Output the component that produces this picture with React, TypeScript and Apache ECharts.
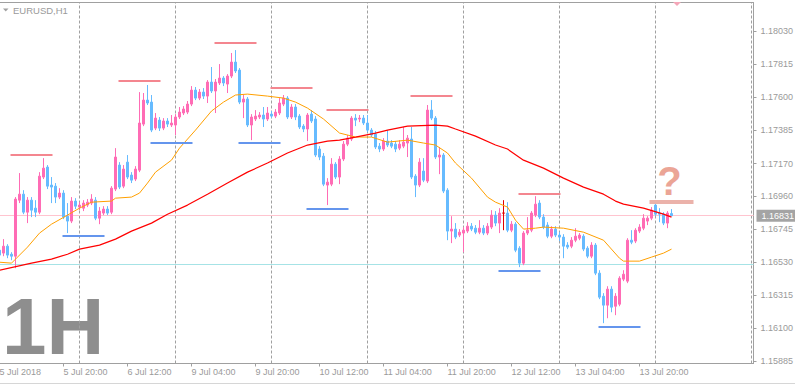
import React, { useEffect, useRef } from 'react';
import * as echarts from 'echarts';

// ---------- axis data ----------
const N_CATS = 189; // 169 bars + empty shift area on the right
const MONTHS = ['Jan', 'Feb', 'Mar', 'Apr', 'May', 'Jun', 'Jul', 'Aug', 'Sep', 'Oct', 'Nov', 'Dec'];
const START_UTC = Date.UTC(2018, 6, 5, 4); // 5 Jul 2018 04:00, first bar

const X_TICK_LABELS = [
  '5 Jul 2018', '5 Jul 20:00', '6 Jul 12:00', '9 Jul 04:00', '9 Jul 20:00', '10 Jul 12:00',
  '11 Jul 04:00', '11 Jul 20:00', '12 Jul 12:00', '13 Jul 04:00', '13 Jul 20:00',
];
const Y_TICKS = [1.15885, 1.161, 1.16315, 1.1653, 1.16745, 1.1696, 1.1717, 1.17385, 1.176, 1.17815, 1.1803];
const Y_MIN = 1.15871;
const Y_MAX = 1.18216;

// ---------- candles (EURUSD H1) ----------
const OPEN = [
  1.16607, 1.16588, 1.16633, 1.16581, 1.16568, 1.16932, 1.16971, 1.16854, 1.16932, 1.1688,
  1.16854, 1.17082, 1.17147, 1.1703, 1.17023, 1.16952, 1.16978, 1.16828, 1.16796, 1.16926,
  1.16887, 1.1688, 1.169, 1.16913, 1.16932, 1.16815, 1.16848, 1.16874, 1.16854, 1.17004,
  1.1716, 1.17023, 1.17179, 1.17095, 1.17069, 1.17127, 1.17426, 1.17582, 1.17569, 1.174,
  1.17452, 1.174, 1.17446, 1.1742, 1.1742, 1.17472, 1.17498, 1.17504, 1.17556, 1.17647,
  1.17595, 1.17634, 1.17608, 1.17699, 1.17641, 1.17693, 1.17725, 1.17686, 1.17738, 1.17829,
  1.17777, 1.17569, 1.17589, 1.1742, 1.17459, 1.17472, 1.17485, 1.17459, 1.17491, 1.17478,
  1.17498, 1.17556, 1.17595, 1.17472, 1.17537, 1.17478, 1.17413, 1.17394, 1.17491, 1.17459,
  1.17264, 1.17218, 1.1703, 1.17036, 1.17166, 1.17082, 1.17199, 1.17296, 1.17329, 1.17465,
  1.17459, 1.17465, 1.17433, 1.17387, 1.17361, 1.17283, 1.17264, 1.17316, 1.17303, 1.17296,
  1.1727, 1.17283, 1.17303, 1.17329, 1.17088, 1.1703, 1.17121, 1.17056, 1.17517, 1.17465,
  1.17212, 1.17225, 1.16997, 1.16731, 1.16744, 1.16705, 1.16718, 1.16731, 1.16763, 1.1675,
  1.16724, 1.1675, 1.16718, 1.16757, 1.16835, 1.16783, 1.16848, 1.16848, 1.16737, 1.16776,
  1.1662, 1.16523, 1.16718, 1.16737, 1.16835, 1.16913, 1.16822, 1.1677, 1.16698, 1.16744,
  1.16705, 1.16692, 1.1664, 1.16633, 1.16672, 1.16685, 1.16698, 1.1662, 1.16568, 1.1664,
  1.16458, 1.16308, 1.1625, 1.16354, 1.16243, 1.16256, 1.16419, 1.16406, 1.16672, 1.16666,
  1.16731, 1.1675, 1.16796, 1.16815, 1.169, 1.16848, 1.16841, 1.16783, 1.16845,
];
const CLOSE = [
  1.16575, 1.16633, 1.16575, 1.16568, 1.16939, 1.16971, 1.16854, 1.16932, 1.16867, 1.16854,
  1.17088, 1.1714, 1.17023, 1.17017, 1.16952, 1.16978, 1.16822, 1.16796, 1.16926, 1.16893,
  1.169, 1.16913, 1.16919, 1.16939, 1.16815, 1.16861, 1.16874, 1.16848, 1.1701, 1.17212,
  1.17017, 1.17134, 1.17082, 1.17062, 1.17134, 1.17433, 1.17582, 1.17563, 1.17387, 1.17465,
  1.174, 1.17446, 1.17426, 1.17433, 1.17472, 1.17504, 1.17524, 1.17556, 1.17647, 1.17595,
  1.17634, 1.17608, 1.17699, 1.17641, 1.17699, 1.17725, 1.17693, 1.17738, 1.17829, 1.17771,
  1.17569, 1.17589, 1.1742, 1.17472, 1.17478, 1.17485, 1.17459, 1.17498, 1.17478, 1.17504,
  1.17563, 1.17595, 1.17472, 1.17537, 1.17472, 1.17407, 1.17394, 1.17485, 1.17446, 1.17225,
  1.17212, 1.17036, 1.17049, 1.17166, 1.17082, 1.17199, 1.17296, 1.17335, 1.17465, 1.17452,
  1.17465, 1.17433, 1.17387, 1.17355, 1.17277, 1.17264, 1.17316, 1.1729, 1.17283, 1.17264,
  1.17296, 1.17309, 1.17335, 1.17082, 1.1703, 1.17179, 1.17062, 1.17517, 1.17465, 1.17212,
  1.17225, 1.16991, 1.16731, 1.16744, 1.16692, 1.16724, 1.16737, 1.16763, 1.16744, 1.16724,
  1.1675, 1.16718, 1.16763, 1.16835, 1.16783, 1.16848, 1.16848, 1.16737, 1.16776, 1.16607,
  1.16523, 1.16718, 1.16737, 1.16848, 1.16906, 1.16822, 1.16757, 1.16698, 1.16744, 1.16705,
  1.16692, 1.16633, 1.16627, 1.16672, 1.16698, 1.16705, 1.16614, 1.16568, 1.1664, 1.16458,
  1.16302, 1.1625, 1.16354, 1.16237, 1.16308, 1.16425, 1.16451, 1.16672, 1.16659, 1.16737,
  1.16757, 1.16815, 1.16815, 1.16867, 1.16841, 1.16841, 1.16783, 1.16848, 1.16831,
];
const LOW = [
  1.16529, 1.16568, 1.16555, 1.16542, 1.1649, 1.16913, 1.16841, 1.16783, 1.16822, 1.16822,
  1.16841, 1.17069, 1.17004, 1.16913, 1.16913, 1.16939, 1.16809, 1.16718, 1.16783, 1.16874,
  1.16867, 1.16861, 1.16887, 1.169, 1.16802, 1.16776, 1.16835, 1.16835, 1.16841, 1.16991,
  1.17004, 1.1701, 1.17069, 1.17043, 1.17056, 1.17114, 1.17413, 1.1755, 1.17374, 1.17387,
  1.17381, 1.17387, 1.17407, 1.17407, 1.17355, 1.17459, 1.17485, 1.17491, 1.17543, 1.17582,
  1.17582, 1.17589, 1.17563, 1.17628, 1.17498, 1.1768, 1.17673, 1.17628, 1.17725, 1.17758,
  1.17556, 1.17465, 1.17407, 1.17322, 1.17446, 1.17459, 1.17407, 1.17446, 1.17465, 1.17465,
  1.17485, 1.17543, 1.17459, 1.17459, 1.17452, 1.17394, 1.17374, 1.17316, 1.17433, 1.17212,
  1.17192, 1.17023, 1.169, 1.17023, 1.17069, 1.17036, 1.17186, 1.17283, 1.17316, 1.17413,
  1.17439, 1.1742, 1.17374, 1.17342, 1.17264, 1.17244, 1.17251, 1.17277, 1.1727, 1.17244,
  1.17257, 1.1727, 1.17212, 1.17069, 1.16952, 1.17017, 1.17049, 1.17043, 1.17452, 1.17199,
  1.17101, 1.16978, 1.16672, 1.16653, 1.16679, 1.16692, 1.16594, 1.16718, 1.16731, 1.16711,
  1.16711, 1.16705, 1.16705, 1.16744, 1.16763, 1.16718, 1.16737, 1.16724, 1.16724, 1.16594,
  1.16497, 1.1651, 1.16705, 1.16724, 1.16822, 1.16809, 1.16744, 1.16685, 1.16685, 1.16692,
  1.16666, 1.16555, 1.16614, 1.1662, 1.16659, 1.16672, 1.16601, 1.16555, 1.16555, 1.16445,
  1.16289, 1.16133, 1.16165, 1.16204, 1.16185, 1.16243, 1.16406, 1.16393, 1.16646, 1.16653,
  1.16718, 1.16737, 1.1677, 1.16802, 1.16828, 1.16789, 1.1677, 1.1675, 1.16828,
];
const HIGH = [
  1.16627, 1.16679, 1.16646, 1.16594, 1.16952, 1.17108, 1.16997, 1.16952, 1.16952, 1.16932,
  1.17114, 1.17205, 1.1716, 1.17082, 1.17043, 1.1701, 1.16997, 1.16913, 1.16952, 1.16945,
  1.16919, 1.16932, 1.16939, 1.16971, 1.16952, 1.16887, 1.16893, 1.16893, 1.17023, 1.1727,
  1.17179, 1.1716, 1.17225, 1.17114, 1.17153, 1.17634, 1.17628, 1.1768, 1.17615, 1.17498,
  1.17472, 1.17465, 1.17465, 1.17485, 1.17491, 1.17537, 1.17543, 1.17576, 1.17673, 1.17667,
  1.17654, 1.1766, 1.17712, 1.17797, 1.17719, 1.17816, 1.17738, 1.17751, 1.17888, 1.17907,
  1.1779, 1.17615, 1.17602, 1.17491, 1.17517, 1.17504, 1.17537, 1.17537, 1.17511, 1.17524,
  1.17595, 1.17615, 1.17608, 1.17556, 1.17556, 1.17491, 1.17426, 1.17498, 1.17517, 1.17478,
  1.17283, 1.17238, 1.17075, 1.17205, 1.17179, 1.17218, 1.17316, 1.17355, 1.17478, 1.17491,
  1.17485, 1.17485, 1.17485, 1.174, 1.17381, 1.17303, 1.17335, 1.17387, 1.17322, 1.17316,
  1.17322, 1.17407, 1.17355, 1.17407, 1.17101, 1.17205, 1.17205, 1.1755, 1.17582, 1.17478,
  1.17277, 1.17238, 1.1701, 1.16828, 1.16783, 1.16744, 1.16757, 1.16789, 1.16783, 1.1677,
  1.16802, 1.1677, 1.16783, 1.16867, 1.16861, 1.1688, 1.16932, 1.16919, 1.16796, 1.16789,
  1.16633, 1.16731, 1.16822, 1.16861, 1.16958, 1.16932, 1.16841, 1.16789, 1.16763, 1.16763,
  1.16724, 1.16711, 1.16659, 1.16692, 1.1675, 1.16718, 1.16711, 1.16633, 1.16659, 1.16653,
  1.16477, 1.16328, 1.16373, 1.16373, 1.16328, 1.16438, 1.16477, 1.16685, 1.16737, 1.1675,
  1.16776, 1.16841, 1.16828, 1.16887, 1.16913, 1.1688, 1.16854, 1.16861, 1.16874,
];

// ---------- moving averages, read at sample bars ----------
const FAST_MA_BARS = [0, 3, 4, 7, 10, 13, 17, 20, 23, 28, 29, 33, 35, 37, 39, 43, 45, 49, 53, 56, 59, 62, 67, 71, 74, 77, 81, 85, 89, 93, 97, 102, 106, 109, 112, 114, 118, 122, 124, 127, 129, 131, 134, 136, 141, 146, 151, 155, 156, 160, 163, 166, 168];
const FAST_MA_VALUES = [1.16529, 1.16523, 1.16549, 1.16627, 1.16718, 1.16776, 1.16835, 1.1688, 1.16919, 1.16926, 1.16945, 1.16952, 1.16978, 1.17043, 1.17114, 1.17192, 1.1727, 1.17387, 1.17511, 1.17569, 1.17615, 1.17621, 1.17608, 1.17595, 1.17569, 1.1753, 1.17459, 1.17368, 1.17342, 1.17342, 1.17309, 1.17322, 1.17303, 1.1729, 1.17238, 1.17173, 1.17075, 1.16952, 1.16919, 1.16887, 1.16802, 1.16744, 1.1675, 1.16757, 1.1675, 1.16724, 1.16672, 1.16555, 1.16536, 1.16536, 1.16562, 1.16588, 1.16614];
const SLOW_MA_BARS = [0, 8, 13, 17, 20, 25, 29, 33, 38, 42, 47, 52, 57, 62, 67, 72, 77, 82, 85, 89, 94, 97, 102, 109, 112, 114, 119, 124, 127, 131, 136, 141, 146, 151, 154, 156, 161, 166, 168];
const SLOW_MA_VALUES = [1.16477, 1.16523, 1.16549, 1.16581, 1.16614, 1.1664, 1.16679, 1.16731, 1.16783, 1.16841, 1.169, 1.16971, 1.17043, 1.17114, 1.17173, 1.17238, 1.1729, 1.17316, 1.17322, 1.17342, 1.17368, 1.17387, 1.17413, 1.1742, 1.17413, 1.17394, 1.17348, 1.1729, 1.17264, 1.17192, 1.1714, 1.17075, 1.17017, 1.16971, 1.16926, 1.16906, 1.1688, 1.16841, 1.16822];

// ---------- drawn levels ----------
const BID = 1.16831;
const CYAN_LEVEL = 1.16514;
const RESIST_LEVELS = [1.17225, 1.17709, 1.17954, 1.17662, 1.17517, 1.1761, 1.16971];
const RESIST_FROM = [3, 30, 54, 68, 82, 103, 130];
const RESIST_TO = [13, 40, 64, 78, 92, 113, 140];
const SUPPORT_LEVELS = [1.16698, 1.17304, 1.17304, 1.16874, 1.16472, 1.16108];
const SUPPORT_FROM = [16, 38, 60, 77, 125, 150];
const SUPPORT_TO = [26, 48, 70, 87, 135, 160];
const TARGET_LEVEL = 1.16924;
const TARGET_FROM = 163;
const TARGET_TO = 173;
const DAY_BREAKS = [20, 44, 68, 92, 116, 140, 164, 188];

const FONT = '"Liberation Sans", Arial, sans-serif';
const PINK = '#ff6cb5';
const BLUE = '#66bbff';
const AXIS_GRAY = '#a0a0a0';
const TEXT_GRAY = '#9a9a9a';

function buildCategories(): string[] {
  const out: string[] = [];
  let t = START_UTC;
  while (out.length < N_CATS) {
    const d = new Date(t);
    const wd = d.getUTCDay();
    if (wd !== 0 && wd !== 6) {
      const hh = String(d.getUTCHours()).padStart(2, '0');
      out.push(`${d.getUTCDate()} ${MONTHS[d.getUTCMonth()]} ${hh}:00`);
    }
    t += 3600000;
  }
  return out;
}

export default function App() {
  const ref = useRef<HTMLDivElement>(null);

  useEffect(() => {
    if (!ref.current) return;
    const chart = echarts.init(ref.current, null, { renderer: 'svg' });
    const cats = buildCategories();
    const showTick = (idx: number) => idx % 16 === 0 && idx / 16 < X_TICK_LABELS.length;

    const candles = OPEN.map((o, i) => [o, CLOSE[i], LOW[i], HIGH[i]]);

    const seg = (from: number, to: number, level: number, color: string, width: number) => [
      { coord: [cats[from], level], lineStyle: { color, width, type: 'solid', cap: 'square' } },
      { coord: [cats[to], level] },
    ];

    const segments = [
      ...RESIST_LEVELS.map((l, k) => seg(RESIST_FROM[k], RESIST_TO[k], l, '#f4868f', 2)),
      ...SUPPORT_LEVELS.map((l, k) => seg(SUPPORT_FROM[k], SUPPORT_TO[k], l, '#6495ed', 2)),
      seg(TARGET_FROM, TARGET_TO, TARGET_LEVEL, '#ebb2aa', 4),
    ];

    const option: any = {
      animation: false,
      backgroundColor: '#ffffff',
      textStyle: { fontFamily: FONT },
      grid: {
        left: -2.5, top: 2.5, width: 756, height: 361,
        show: true, borderColor: AXIS_GRAY, borderWidth: 1, backgroundColor: 'transparent',
        containLabel: false, outerBoundsMode: 'none',
      },
      xAxis: {
        type: 'category',
        data: cats,
        boundaryGap: true,
        axisLine: { show: true, lineStyle: { color: AXIS_GRAY, width: 1 } },
        axisTick: { show: true, alignWithLabel: true, length: 3, interval: showTick, lineStyle: { color: AXIS_GRAY } },
        axisLabel: {
          show: true, interval: showTick, align: 'left', margin: 4,
          color: TEXT_GRAY, fontSize: 9, fontFamily: FONT,
          formatter: (_v: string, idx: number) => (idx % 16 === 0 ? X_TICK_LABELS[idx / 16] ?? '' : ''),
        },
        splitLine: { show: false },
      },
      yAxis: {
        type: 'value',
        position: 'right',
        min: Y_MIN,
        max: Y_MAX,
        axisLine: { show: true, lineStyle: { color: AXIS_GRAY, width: 1 } },
        axisTick: { show: true, length: 3, customValues: Y_TICKS, lineStyle: { color: AXIS_GRAY } },
        axisLabel: {
          show: true, customValues: Y_TICKS, margin: 7,
          color: TEXT_GRAY, fontSize: 9, fontFamily: FONT,
          formatter: (v: number) => v.toFixed(5),
        },
        splitLine: { show: false },
      },
      series: [
        {
          type: 'line', name: 'grid', data: [], silent: true, z: 1,
          markLine: {
            silent: true, z: 1, symbol: ['none', 'none'], animation: false, precision: 5,
            label: { show: false },
            data: [
              ...DAY_BREAKS.map((i) => ({ xAxis: cats[i], lineStyle: { color: AXIS_GRAY, width: 1, type: [3, 2] } })),
              { yAxis: CYAN_LEVEL, lineStyle: { color: '#a6e3e6', width: 1, type: 'solid' } },
              {
                yAxis: BID,
                lineStyle: { color: '#ffc4cf', width: 1, type: 'solid' },
                label: {
                  show: true, position: 'end', distance: 3, formatter: BID.toFixed(5),
                  backgroundColor: '#a4a4a4', color: '#ffffff', padding: [2, 7, 1, 5],
                  fontSize: 9, fontFamily: FONT,
                },
              },
            ],
          },
        },
        {
          type: 'candlestick', name: 'EURUSD', data: candles, z: 2,
          barWidth: 2,
          itemStyle: {
            color: PINK, color0: BLUE, borderColor: PINK, borderColor0: BLUE,
            borderColorDoji: '#e00000', borderWidth: 1,
          },
        },
        {
          type: 'line', name: 'MA fast', z: 3, symbol: 'none', silent: true,
          data: FAST_MA_BARS.map((b, k) => [b, FAST_MA_VALUES[k]]),
          lineStyle: { color: '#ffa000', width: 1 },
        },
        {
          type: 'line', name: 'MA slow', z: 3, symbol: 'none', silent: true,
          data: SLOW_MA_BARS.map((b, k) => [b, SLOW_MA_VALUES[k]]),
          lineStyle: { color: '#ff0000', width: 1.2 },
        },
        {
          type: 'line', name: 'levels', data: [], silent: true, z: 4,
          markLine: {
            silent: true, z: 4, symbol: ['none', 'none'], animation: false, precision: 5,
            label: { show: false },
            data: segments,
          },
        },
      ],
      graphic: [
        { type: 'polygon', shape: { points: [[3, 8.5], [8.5, 8.5], [5.75, 11.5]] }, style: { fill: AXIS_GRAY } },
        {
          type: 'text', x: 13, y: 10,
          style: { text: 'EURUSD,H1', fill: TEXT_GRAY, font: `9.5px ${FONT}`, verticalAlign: 'middle', align: 'left' },
        },
        { type: 'polygon', shape: { points: [[673, 2], [681, 2], [677, 6]] }, style: { fill: '#f4a6b8' } },
        {
          type: 'text', x: 2, y: 326, z: 0,
          style: { text: '1H', fill: '#8e8e8e', font: `bold 80px ${FONT}`, verticalAlign: 'middle', align: 'left' },
        },
        {
          type: 'text', x: 669.5, y: 181, z: 10,
          style: { text: '?', fill: '#eba596', font: `bold 40px ${FONT}`, verticalAlign: 'middle', align: 'center' },
        },
        { type: 'rect', shape: { x: 0, y: 383, width: 795, height: 1 }, style: { fill: '#d6d6d6' } },
      ],
    };

    chart.setOption(option);
    return () => chart.dispose();
  }, []);

  return (
    <div
      ref={ref}
      style={{ position: 'absolute', left: 0, top: 0, width: 795, height: 385, background: '#fff' }}
    />
  );
}
